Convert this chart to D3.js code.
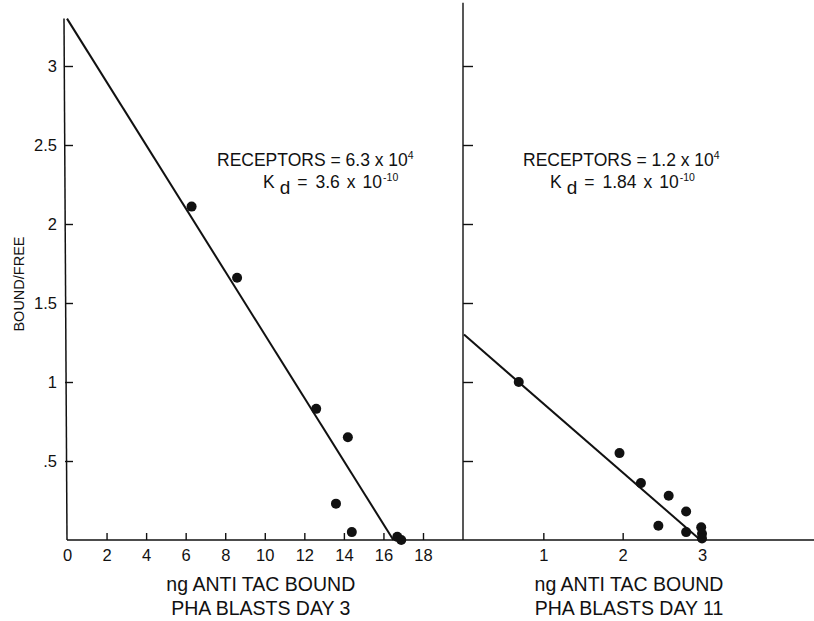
<!DOCTYPE html>
<html><head><meta charset="utf-8">
<script src="https://cdn.jsdelivr.net/npm/d3@7/dist/d3.min.js"></script>
<style>
html,body{margin:0;padding:0;background:#fff;}
text{font-family:"Liberation Sans",Arial,Helvetica,sans-serif;fill:#111;}
</style></head>
<body><svg id="c" width="814" height="621"></svg>
<script>
// ---- data ----
const day3X = [6.3, 8.6, 12.6, 14.2, 13.6, 14.4, 16.7, 16.9];
const day3Y = [2.11, 1.66, 0.83, 0.65, 0.23, 0.05, 0.02, 0.0];
const day3Fit = [[0, 3.30], [16.5, 0]];
const day11X = [0.69, 1.96, 2.23, 2.58, 2.80, 2.45, 2.80, 2.99, 3.0, 3.0];
const day11Y = [1.00, 0.55, 0.36, 0.28, 0.18, 0.09, 0.05, 0.08, 0.04, 0.01];
const day11Fit = [[0, 1.30], [2.98, 0]];
const yTicks = [0.5, 1, 1.5, 2, 2.5, 3];
const yTickLabels = [".5", "1", "1.5", "2", "2.5", "3"];
const xTicksLeft = [0, 2, 4, 6, 8, 10, 12, 14, 16, 18];
const xTicksRight = [1, 2, 3];
const yTitle = "BOUND/FREE";
const xTitle = "ng ANTI TAC BOUND";
const panelTitles = ["PHA BLASTS DAY 3", "PHA BLASTS DAY 11"];
const annotations = [
  {rec: "6.3", kd: "3.6", recExp: "4", kdExp: "-10"},
  {rec: "1.2", kd: "1.84", recExp: "4", kdExp: "-10"}
];

const svg = d3.select("#c");
const W = 814;
const y = d3.scaleLinear().domain([0, 3]).range([540, 66]);
const xL = d3.scaleLinear().domain([0, 18]).range([67, 423]);
const xR = d3.scaleLinear().domain([0, 3]).range([464, 702]);
const FF = "Liberation Sans, Arial, sans-serif";
const TICK_FS = 16.5;

const g = svg.append("g");

// x axis baseline across the whole width
g.append("line").attr("x1", xL(0)).attr("x2", W).attr("y1", y(0)).attr("y2", y(0))
  .attr("stroke", "#111").attr("stroke-width", 1.6);

function styleAxis(sel) {
  sel.select(".domain").remove();
  sel.attr("font-size", TICK_FS).attr("font-family", FF);
  sel.selectAll(".tick line").attr("stroke", "#111").attr("stroke-width", 1.4);
  sel.selectAll(".tick text").attr("font-size", TICK_FS).attr("fill", "#111");
}

// left x axis
const axL = g.append("g").attr("transform", `translate(0,${y(0)})`)
  .call(d3.axisBottom(xL).tickValues(xTicksLeft).tickSize(-7).tickPadding(9).tickFormat(d3.format("d")));
styleAxis(axL);
axL.selectAll(".tick").filter(d => d === 0).select("line").remove();

// right x axis
const axR = g.append("g").attr("transform", `translate(0,${y(0)})`)
  .call(d3.axisBottom(xR).tickValues(xTicksRight).tickSize(-7).tickPadding(9).tickFormat(d3.format("d")));
styleAxis(axR);

// left y axis
g.append("line").attr("x1", xL(0) - 3).attr("x2", xL(0)).attr("y1", y(3.30)).attr("y2", y(0))
  .attr("stroke", "#111").attr("stroke-width", 1.5);
const ayL = g.append("g").attr("transform", `translate(${xL(0) - 2},0)`)
  .call(d3.axisLeft(y).tickValues(yTicks).tickSize(-8).tickPadding(8)
    .tickFormat((d, i) => yTickLabels[i]));
styleAxis(ayL);

// right y axis (no labels)
g.append("line").attr("x1", xR(0) - 1).attr("x2", xR(0) - 1).attr("y1", y(3.40)).attr("y2", y(0))
  .attr("stroke", "#111").attr("stroke-width", 1.4);
const ayR = g.append("g").attr("transform", `translate(${xR(0) - 1},0)`)
  .call(d3.axisLeft(y).tickValues(yTicks).tickSize(-10).tickFormat(""));
styleAxis(ayR);

// fit lines
const line = (xs) => d3.line().x(d => xs(d[0])).y(d => y(d[1]));
g.append("path").attr("d", line(xL)(day3Fit)).attr("fill", "none").attr("stroke", "#111").attr("stroke-width", 2);
g.append("path").attr("d", line(xR)(day11Fit)).attr("fill", "none").attr("stroke", "#111").attr("stroke-width", 2);

// points
g.selectAll("circle.l").data(day3X.map((v, i) => [v, day3Y[i]])).join("circle")
  .attr("class", "l").attr("cx", d => xL(d[0])).attr("cy", d => y(d[1])).attr("r", 5).attr("fill", "#111");
g.selectAll("circle.r").data(day11X.map((v, i) => [v, day11Y[i]])).join("circle")
  .attr("class", "r").attr("cx", d => xR(d[0])).attr("cy", d => y(d[1])).attr("r", 5).attr("fill", "#111");

// titles
g.append("text").attr("transform", `translate(24,${y(1.62)}) rotate(-90)`)
  .attr("text-anchor", "middle").attr("font-size", 14.5).text(yTitle);
[[xL(9.8), 0], [xR(2.08), 1]].forEach(([cx, i]) => {
  g.append("text").attr("x", cx).attr("y", 591).attr("text-anchor", "middle").attr("font-size", 19.5).text(xTitle);
  g.append("text").attr("x", cx).attr("y", 615).attr("text-anchor", "middle").attr("font-size", 19.5).text(panelTitles[i]);
});

// annotations
function annot(x0, xk, a) {
  const t1 = g.append("text").attr("x", x0).attr("y", 166).attr("font-size", 17.5);
  t1.append("tspan").text(`RECEPTORS = ${a.rec} x 10`);
  t1.append("tspan").attr("dy", -7).attr("font-size", 10.5).text(a.recExp);
  const t2 = g.append("text").attr("x", xk).attr("y", 188).attr("font-size", 17.5);
  t2.append("tspan").text("K");
  t2.append("tspan").attr("dy", 6).attr("dx", 5).attr("font-size", 19).text("d");
  t2.append("tspan").attr("dy", -6).attr("dx", 7).text("=");
  t2.append("tspan").attr("dx", 8).text(a.kd);
  t2.append("tspan").attr("dx", 7).text("x");
  t2.append("tspan").attr("dx", 7).text("10");
  t2.append("tspan").attr("dy", -7).attr("dx", 1).attr("font-size", 10.5).text(a.kdExp);
}
annot(217, 263, annotations[0]);
annot(523, 550, annotations[1]);
</script></body></html>
